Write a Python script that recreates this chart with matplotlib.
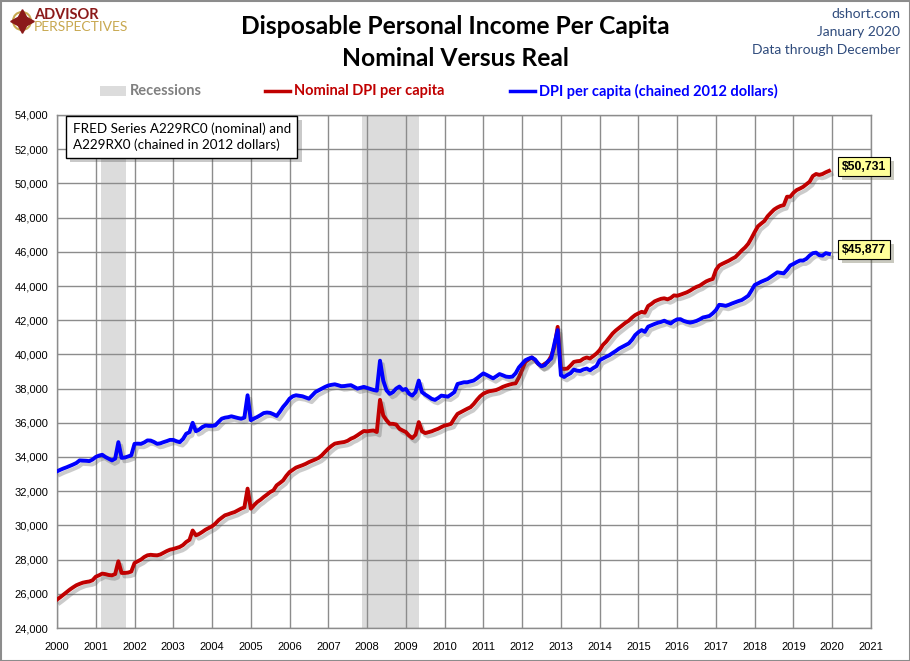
import numpy as np
import matplotlib
matplotlib.use("Agg")
import matplotlib.pyplot as plt
import matplotlib.patheffects as pe
from matplotlib.patches import Rectangle, Circle
from matplotlib.lines import Line2D
from matplotlib.ticker import FuncFormatter

# monthly values, Jan 2000 .. Dec 2019
nominal = [
 25660,25800,25950,26100,26250,26380,26500,26580,26650,26690,26720,26790,  # 2000
 27000,27080,27180,27150,27100,27080,27150,27900,27220,27220,27240,27300,  # 2001
 27800,27900,28000,28150,28250,28280,28260,28250,28300,28400,28500,28580,  # 2002
 28620,28680,28740,28850,29030,29150,29700,29420,29500,29620,29750,29850,  # 2003
 29950,30100,30300,30450,30590,30650,30720,30780,30880,30980,31050,32150,  # 2004
 30980,31180,31370,31500,31660,31800,31950,32050,32340,32480,32630,32900,  # 2005
 33120,33250,33380,33450,33520,33600,33700,33780,33860,33950,34100,34300,  # 2006
 34490,34650,34780,34820,34850,34880,34950,35070,35150,35270,35400,35520,  # 2007
 35500,35530,35550,35460,37340,36430,36150,35940,35940,35900,35650,35550,  # 2008
 35460,35250,35110,35300,36040,35500,35400,35450,35500,35580,35650,35750,  # 2009
 35840,35880,35940,36250,36520,36620,36720,36820,36910,37100,37340,37550,  # 2010
 37700,37790,37850,37880,37920,38000,38100,38170,38230,38280,38310,38660,  # 2011
 39100,39560,39700,39820,39660,39450,39310,39450,39560,39900,40440,41610,  # 2012
 39170,39150,39170,39350,39560,39600,39620,39750,39820,39760,39900,40050,  # 2013
 40250,40550,40740,40980,41220,41400,41550,41700,41850,41970,42150,42300,  # 2014
 42400,42490,42440,42830,42950,43100,43180,43250,43280,43220,43300,43450,  # 2015
 43430,43490,43560,43630,43730,43850,43950,44020,44150,44270,44350,44410,  # 2016
 44940,45200,45300,45390,45480,45590,45690,45880,46080,46250,46470,46800,  # 2017
 47160,47490,47650,47800,48080,48280,48470,48590,48680,48730,49220,49220,  # 2018
 49450,49610,49700,49800,49950,50100,50430,50550,50500,50550,50650,50731,  # 2019
]
real = [
 33160,33250,33330,33400,33480,33560,33650,33800,33790,33780,33760,33850,  # 2000
 34000,34080,34130,34000,33900,33800,33900,34870,33950,33970,34030,34100,  # 2001
 34770,34780,34770,34850,34970,34960,34880,34770,34800,34870,34930,35000,  # 2002
 35000,34920,34870,35050,35360,35450,36000,35510,35600,35750,35840,35820,  # 2003
 35820,35850,36050,36240,36300,36330,36380,36330,36280,36240,36300,37610,  # 2004
 36150,36250,36340,36450,36570,36600,36580,36500,36400,36650,36930,37150,  # 2005
 37410,37550,37610,37580,37550,37480,37410,37600,37800,37900,38000,38100,  # 2006
 38180,38220,38250,38200,38140,38150,38180,38200,38100,38000,38050,38100,  # 2007
 38040,37980,37920,37880,39630,38470,37900,37690,37790,38000,38120,37920,  # 2008
 37980,37700,37590,37800,38470,37790,37650,37530,37400,37340,37450,37590,  # 2009
 37560,37530,37650,37790,38270,38320,38370,38370,38420,38470,38600,38750,  # 2010
 38890,38800,38700,38600,38720,38850,38780,38700,38680,38700,38900,39240,  # 2011
 39450,39660,39750,39820,39700,39450,39310,39370,39600,39760,40640,41420,  # 2012
 38780,38680,38800,38900,39110,39050,39030,39120,39170,39070,39200,39310,  # 2013
 39660,39760,39860,39950,40080,40200,40340,40440,40540,40640,40850,41130,  # 2014
 41300,41420,41320,41620,41700,41780,41850,41900,41970,41880,41810,41950,  # 2015
 42050,42060,41960,41900,41860,41900,41960,42050,42160,42200,42250,42400,  # 2016
 42590,42900,42880,42840,42900,42980,43050,43120,43180,43300,43430,43730,  # 2017
 44060,44150,44250,44330,44410,44540,44670,44800,44770,44740,44950,45200,  # 2018
 45290,45400,45490,45490,45590,45780,45920,45950,45800,45780,45920,45877,  # 2019
]
recessions = [(2001.13, 2001.78), (2007.86, 2009.33)]
years = list(range(2000, 2022))

t = 2000 + np.arange(len(nominal)) / 12.0

RED = "#C00000"
BLUE = "#0000FF"
GRID = "#8C8C8C"

fig = plt.figure(figsize=(9.1, 6.61), dpi=100)
ax = fig.add_axes([57/910, 1 - 628/661, (871-57)/910, (628-115)/661])

for a, b in recessions:
    ax.axvspan(a, b, color="#DCDCDC", lw=0, zorder=0)

shadow = [pe.SimpleLineShadow(offset=(2, -2.5), shadow_color="#555555", alpha=0.3), pe.Normal()]
ax.plot(t, nominal, color=RED, lw=2.8, zorder=3, path_effects=shadow, solid_joinstyle="round")
ax.plot(t, real, color=BLUE, lw=2.8, zorder=4, path_effects=shadow, solid_joinstyle="round")

ax.set_xlim(2000, 2021)
ax.set_ylim(24000, 54000)
ax.set_xticks(years)
ax.set_yticks(range(24000, 54001, 2000))
ax.yaxis.set_major_formatter(FuncFormatter(lambda v, p: f"{int(v):,}"))
ax.grid(True, color=GRID, lw=1, zorder=1)
ax.set_axisbelow(True)
ax.tick_params(length=0, labelsize=8, pad=6)
ax.tick_params(axis="x", pad=10)
for lab in ax.get_xticklabels() + ax.get_yticklabels():
    lab.set_fontfamily("Liberation Sans")
for s in ax.spines.values():
    s.set_color(GRID)
    s.set_linewidth(1)

# note box
ax.text(2000.4, 53550, "FRED Series A229RC0 (nominal) and\nA229RX0 (chained in 2012 dollars)",
        fontsize=9.7, family="Lato", va="top", ha="left", linespacing=1.3, zorder=6,
        bbox=dict(boxstyle="square,pad=0.5", fc="white", ec="black", lw=1,
                  path_effects=[pe.SimplePatchShadow(offset=(3, -3), alpha=0.3), pe.Normal()]))

# end-value labels
for val in (nominal[-1], real[-1]):
    ax.text(2020.25, val + 250, f"${val:,}", fontsize=8.8, family="Liberation Sans", weight="bold",
            va="center", ha="left", zorder=6, clip_on=False,
            bbox=dict(boxstyle="square,pad=0.3", fc="#FFFF99", ec="black", lw=0.8,
                      path_effects=[pe.SimplePatchShadow(offset=(3, -3), alpha=0.3), pe.Normal()]))

# overlay in pixel coordinates for header items
ov = fig.add_axes([0, 0, 1, 1], zorder=-1)
ov.set_xlim(0, 910)
ov.set_ylim(661, 0)
ov.axis("off")
ov.add_patch(Rectangle((0.5, 0.5), 909, 660, fill=False, ec="#8C8C8C", lw=1.5))

ov.text(455, 27, "Disposable Personal Income Per Capita", ha="center", va="center",
        fontsize=17.7, weight="bold", family="Lato")
ov.text(455, 58, "Nominal Versus Real", ha="center", va="center",
        fontsize=17.7, weight="bold", family="Lato")

NAVY = "#2F4B7C"
ov.text(900, 14, "dshort.com", ha="right", va="center", fontsize=10, color=NAVY, family="Lato")
ov.text(900, 32, "January 2020", ha="right", va="center", fontsize=10, color=NAVY, family="Lato")
ov.text(900, 50, "Data through December", ha="right", va="center", fontsize=10, color=NAVY, family="Lato")

# logo
ov.add_patch(Circle((22, 21), 9, fc="none", ec="#C8A850", lw=1.5))
ov.plot([22], [21], marker=(4, 1, 0), ms=17, color="#8B1A1A")
ov.text(34, 15, "ADVISOR", fontsize=10.5, weight="bold", color="#8B1A1A", va="center", family="Lato")
ov.text(34, 27, "PERSPECTIVES", fontsize=10, color="#C8A850", va="center", family="Lato")

# legend row
ov.add_patch(Rectangle((100, 86), 26, 10, fc="#DCDCDC", ec="none"))
ov.text(130, 91, "Recessions", fontsize=10.5, weight="bold", color="#808080", va="center", family="Lato")
ov.add_line(Line2D([265, 290], [91, 91], color=RED, lw=2.5))
ov.text(294, 91, "Nominal DPI per capita", fontsize=10.5, weight="bold", color=RED, va="center", family="Lato")
ov.add_line(Line2D([510, 535], [91, 91], color=BLUE, lw=2.5))
ov.text(539, 91, "DPI per capita (chained 2012 dollars)", fontsize=10.5, weight="bold", color=BLUE,
        va="center", family="Lato")

fig.savefig("out.png", dpi=100)
